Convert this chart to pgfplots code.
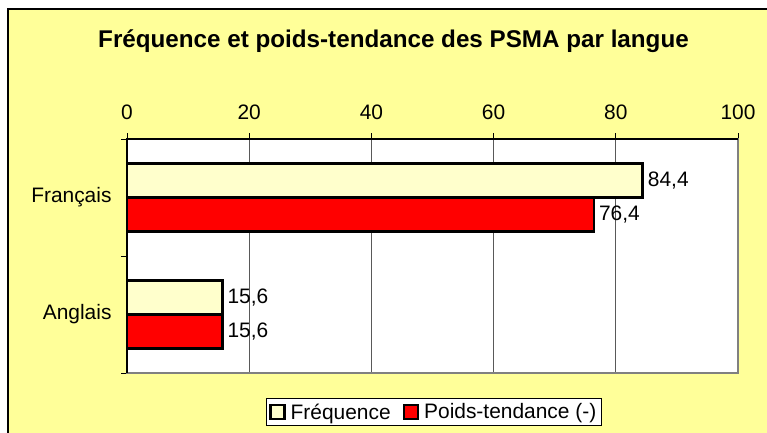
\documentclass[border=0pt]{standalone}
\usepackage{pgfplots}
\pgfplotsset{compat=1.18}
\usepackage{fontspec}
\setmainfont{Liberation Sans}
\definecolor{bgyellow}{HTML}{FFFF99}
\definecolor{lightyellow}{HTML}{FFFFCC}
\definecolor{axgray}{HTML}{808080}
\pgfplotsset{sqlegend/.style={legend image code/.code={\draw[#1, line width=2.5bp] (0bp,-7bp) rectangle (14bp,7bp);}}}
\begin{document}
\begin{tikzpicture}
\useasboundingbox (0,0) rectangle (767bp,-433bp);
\fill[white] (0,0) rectangle (767bp,-433bp);
\fill[bgyellow] (7bp,-8bp) rectangle (767bp,-433bp);
\draw[black, line width=1.5bp] (7.75bp,-433bp) -- (7.75bp,-8.75bp) -- (767bp,-8.75bp);
\node[font=\fontsize{24.3}{28}\selectfont\bfseries, inner sep=0pt] at (393.5bp,-41bp) {Fréquence et poids-tendance des PSMA par langue};
\begin{axis}[
  at={(127bp,-373bp)}, anchor=south west,
  scale only axis, width=611bp, height=234bp,
  xmin=0, xmax=100, ymin=-0.5, ymax=1.5,
  xbar, bar width=34bp,
  xtick={0,20,40,60,80,100},
  xtick pos=right, xticklabel pos=right,
  ytick pos=left,
  tick align=outside, major tick length=6bp,
  ytick={-0.5,0.5,1.5}, yticklabels={},
  extra y ticks={0,1}, extra y tick labels={Anglais,Français},
  extra y tick style={major tick length=0bp, yticklabel style={xshift=-12bp}},
  tick style={draw=black, line width=1bp},
  xmajorgrids, grid style={draw=black!65, line width=1bp},
  axis line style={draw=axgray, line width=2bp},
  axis background/.style={fill=white},
  tick label style={font=\fontsize{21}{24}\selectfont},
  xticklabel style={yshift=10bp},
  /pgf/number format/assume math mode=true,
  point meta=x,
  nodes near coords,
  nodes near coords style={font=\fontsize{21}{24}\selectfont, inner sep=4bp,
     /pgf/number format/.cd, fixed, fixed zerofill, precision=1, use comma},
  legend columns=2,
  legend style={at={(0.502,-0.167)}, anchor=center, draw=black, fill=white,
     line width=0.8bp, font=\fontsize{21}{24}\selectfont, inner xsep=3bp, inner ysep=3bp,
     /tikz/every odd column/.append style={column sep=3bp},
     /tikz/every even column/.append style={column sep=10bp}},
]
\addplot[fill=lightyellow, draw=black, line width=2.5bp, bar shift=17bp, sqlegend] coordinates {(15.6,0) (84.4,1)};
\addplot[fill=red, draw=black, line width=2.5bp, bar shift=-17bp, sqlegend] coordinates {(15.6,0) (76.4,1)};
\legend{Fréquence, Poids-tendance (-)}
\end{axis}
\draw[black, line width=1.5bp] (127bp,-373bp) -- (127bp,-139bp) -- (738bp,-139bp);
\end{tikzpicture}
\end{document}
